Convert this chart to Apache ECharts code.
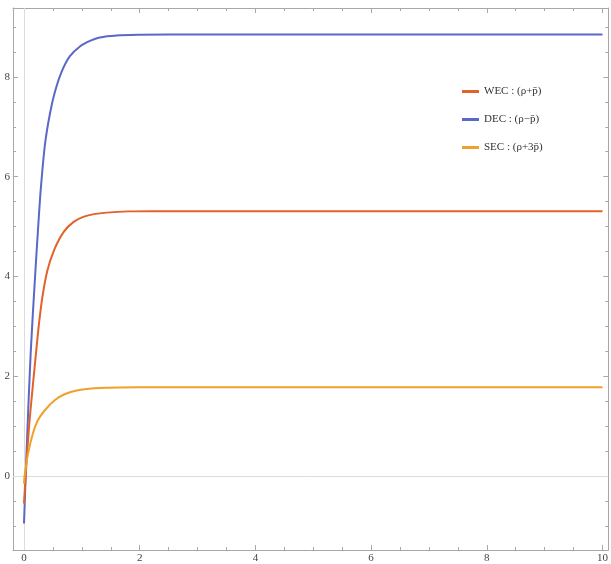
<!DOCTYPE html>
<html>
<head>
<meta charset="utf-8">
<script src="https://cdn.jsdelivr.net/npm/echarts@6/dist/echarts.min.js"></script>
<style>html,body{margin:0;padding:0;background:#fff;}#c{width:611px;height:564px;}</style>
</head>
<body>
<div id="c"></div>
<script>
// Data
var decX = [0, 0.05, 0.115, 0.19, 0.24, 0.29, 0.363, 0.45, 0.535, 0.65, 0.79, 0.967, 1.14, 1.31, 1.6, 2.0, 2.5, 10];
var decY = [-0.95, 0.65, 2.45, 3.97, 4.9, 5.75, 6.65, 7.27, 7.7, 8.1, 8.41, 8.61, 8.72, 8.79, 8.83, 8.845, 8.85, 8.85];
var wecX = [0, 0.046, 0.092, 0.15, 0.219, 0.26, 0.317, 0.40, 0.52, 0.69, 0.864, 1.036, 1.21, 1.43, 1.8, 2.2, 10];
var wecY = [-0.55, 0.33, 1.05, 1.78, 2.6, 3.06, 3.58, 4.1, 4.53, 4.9, 5.1, 5.2, 5.25, 5.28, 5.305, 5.31, 5.31];
var secX = [0, 0.01, 0.07, 0.155, 0.24, 0.36, 0.53, 0.70, 0.93, 1.22, 1.45, 2, 10];
var secY = [-0.15, 0.0, 0.45, 0.86, 1.12, 1.32, 1.52, 1.64, 1.72, 1.76, 1.77, 1.78, 1.78];
var seriesNames = ["WEC : (\u03c1+p\u0304)", "DEC : (\u03c1\u2212p\u0304)", "SEC : (\u03c1+3p\u0304)"];
var xMajor = [0, 2, 4, 6, 8, 10];
var xMinor = [0.5, 1, 1.5, 2.5, 3, 3.5, 4.5, 5, 5.5, 6.5, 7, 7.5, 8.5, 9, 9.5];
var yMajor = [0, 2, 4, 6, 8];
var yMinor = [-1, -0.5, 0.5, 1, 1.5, 2.5, 3, 3.5, 4.5, 5, 5.5, 6.5, 7, 7.5, 8.5, 9];

function pairs(xs, ys) { return xs.map(function (x, i) { return [x, ys[i]]; }); }

var X_MIN = -0.19, X_MAX = 10.1, Y_MIN = -1.48, Y_MAX = 9.38;
var frameColor = '#a8a8a8';
var font = '"Liberation Serif", "DejaVu Serif", serif';

function xAx(pos, vals, len, showLine, showLabel) {
  return {
    type: 'value', position: pos, min: X_MIN, max: X_MAX,
    axisLine: { show: showLine, onZero: false, lineStyle: { color: frameColor, width: 1 } },
    axisTick: { show: true, inside: true, length: len, customValues: vals, lineStyle: { color: frameColor } },
    axisLabel: { show: showLabel, customValues: vals, color: '#444', fontFamily: font, fontSize: 11, margin: 3 },
    splitLine: { show: false }
  };
}
function yAx(pos, vals, len, showLine, showLabel) {
  return {
    type: 'value', position: pos, min: Y_MIN, max: Y_MAX,
    axisLine: { show: showLine, onZero: false, lineStyle: { color: frameColor, width: 1 } },
    axisTick: { show: true, inside: true, length: len, customValues: vals, lineStyle: { color: frameColor } },
    axisLabel: { show: showLabel, customValues: vals, color: '#444', fontFamily: font, fontSize: 11, margin: 3 },
    splitLine: { show: false }
  };
}

var chart = echarts.init(document.getElementById('c'));
chart.setOption({
  animation: false,
  backgroundColor: '#fff',
  grid: { left: 13, right: 2, top: 8, bottom: 14, containLabel: false },
  xAxis: [
    xAx('bottom', xMajor, 5, true, true),
    xAx('bottom', xMinor, 3, false, false),
    xAx('top', xMajor, 5, true, false),
    xAx('top', xMinor, 3, false, false)
  ],
  yAxis: [
    yAx('left', yMajor, 5, true, true),
    yAx('left', yMinor, 3, false, false),
    yAx('right', yMajor, 5, true, false),
    yAx('right', yMinor, 3, false, false)
  ],
  legend: {
    orient: 'vertical', left: 462, top: 86, itemGap: 17, padding: 0,
    itemWidth: 17, itemHeight: 3, icon: 'rect',
    textStyle: { fontFamily: font, fontSize: 11, color: '#333' },
    data: [seriesNames[0], seriesNames[1], seriesNames[2]]
  },
  series: [
    {
      name: seriesNames[0], type: 'line', data: pairs(wecX, wecY),
      smooth: 0.3, showSymbol: false, color: '#E2622A', lineStyle: { width: 2 }, z: 3,
      markLine: {
        silent: true, symbol: 'none', label: { show: false },
        lineStyle: { color: '#dcdcdc', width: 1, type: 'solid' },
        data: [{ xAxis: 0 }, { yAxis: 0 }], z: 1
      }
    },
    {
      name: seriesNames[1], type: 'line', data: pairs(decX, decY),
      smooth: 0.3, showSymbol: false, color: '#5A68C6', lineStyle: { width: 2 }, z: 2
    },
    {
      name: seriesNames[2], type: 'line', data: pairs(secX, secY),
      smooth: 0.3, showSymbol: false, color: '#EFA12A', lineStyle: { width: 2 }, z: 4
    }
  ]
});
</script>
</body>
</html>
